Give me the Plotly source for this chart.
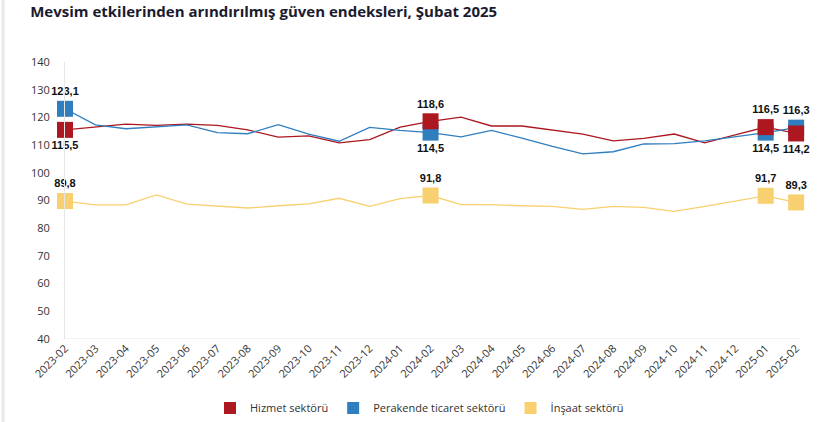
import plotly.graph_objects as go

months = [
    "2023-02", "2023-03", "2023-04", "2023-05", "2023-06", "2023-07", "2023-08",
    "2023-09", "2023-10", "2023-11", "2023-12", "2024-01", "2024-02", "2024-03",
    "2024-04", "2024-05", "2024-06", "2024-07", "2024-08", "2024-09", "2024-10",
    "2024-11", "2024-12", "2025-01", "2025-02",
]

hizmet = [115.5, 116.5, 117.6, 117.1, 117.6, 117.1, 115.5, 112.9, 113.3, 110.8, 112.0, 116.5,
          118.6, 120.1, 116.9, 116.9, 115.5, 114.0, 111.5, 112.4, 114.0, 110.8, 113.7, 116.5, 114.2]
perakende = [123.1, 117.3, 115.9, 116.5, 117.3, 114.5, 114.1, 117.4, 114.0, 111.4, 116.4, 115.3,
             114.5, 113.0, 115.3, 112.5, 109.5, 106.8, 107.6, 110.4, 110.5, 111.5, 113.0, 114.5, 116.3]
insaat = [89.8, 88.4, 88.4, 92.0, 88.7, 88.0, 87.3, 88.1, 88.8, 90.8, 87.9, 90.7,
          91.8, 88.5, 88.5, 88.1, 87.9, 86.8, 87.9, 87.5, 86.1, 87.9, 89.8, 91.7, 89.3]

names = ["Hizmet sektörü", "Perakende ticaret sektörü", "İnşaat sektörü"]
colors = ["#AC1720", "#2F7EBF", "#F8D06F"]

# points that get a square marker and a value label
marked = ["2023-02", "2024-02", "2025-01", "2025-02"]
label_pos = [
    ["bottom center", "top center", "top center", "bottom center"],
    ["top center", "bottom center", "bottom center", "top center"],
    ["top center", "top center", "top center", "top center"],
]


def fmt(v):
    return f"{v:.1f}".replace(".", ",")


fig = go.Figure()

all_series = [hizmet, perakende, insaat]

for i, series in enumerate(all_series):
    fig.add_trace(go.Scatter(
        x=months, y=series, mode="lines",
        line=dict(color=colors[i], width=1.3),
        showlegend=False, hoverinfo="skip",
    ))

# red squares sit on top of the blue ones, so draw blue first
for i in [1, 0, 2]:
    series = all_series[i]
    ys = [series[months.index(m)] for m in marked]
    fig.add_trace(go.Scatter(
        x=marked, y=ys, mode="markers+text",
        marker=dict(symbol="square", size=16, color=colors[i]),
        text=[fmt(v) for v in ys],
        textposition=label_pos[i],
        textfont=dict(family="Liberation Sans, Arial", size=11, color="#111111", weight="bold"),
        showlegend=False, cliponaxis=False,
    ))

for i in range(3):
    fig.add_trace(go.Scatter(
        x=[None], y=[None], mode="markers", name=names[i],
        marker=dict(symbol="square", size=12, color=colors[i]),
    ))

fig.update_layout(
    width=839, height=422,
    margin=dict(l=65, r=38, t=62, b=83),
    paper_bgcolor="white", plot_bgcolor="white",
    title=dict(
        text="<b>Mevsim etkilerinden arındırılmış güven endeksleri, Şubat 2025</b>",
        x=0.036, xanchor="left", y=0.985, yanchor="top",
        font=dict(family="Open Sans, Noto Sans", size=15, color="#1b1b2f"),
    ),
    font=dict(family="Open Sans, Noto Sans", size=11, color="#333333"),
    legend=dict(
        orientation="h", x=0.5, xanchor="center", xref="container",
        y=14 / 422, yanchor="middle", yref="container",
        font=dict(size=11, color="#333333"), itemwidth=30,
    ),
    showlegend=True,
)

fig.update_xaxes(
    type="category", range=[0, 24.16], automargin=False,
    tickangle=-45, showgrid=False, showline=False, zeroline=False,
    tickfont=dict(size=11, color="#333333"),
)
fig.update_yaxes(
    range=[40, 140], dtick=10, showgrid=False, zeroline=False, automargin=False,
    showline=True, linecolor="#e6e6e6", linewidth=1,
    tickfont=dict(size=11, color="#333333"), ticklabelstandoff=12,
)

# baseline at 40 and the light container edge on the left
fig.add_shape(type="line", xref="paper", yref="y", x0=0, x1=1, y0=40, y1=40,
              line=dict(color="#e6e6e6", width=1))
fig.add_shape(type="line", xref="paper", yref="paper", x0=-62 / 736, x1=-62 / 736,
              y0=-83 / 277, y1=1 + 62 / 277, line=dict(color="#e8e8e8", width=3))

fig.write_html("out.html", config={"displayModeBar": False},
               post_script="document.body.style.margin='0';")
